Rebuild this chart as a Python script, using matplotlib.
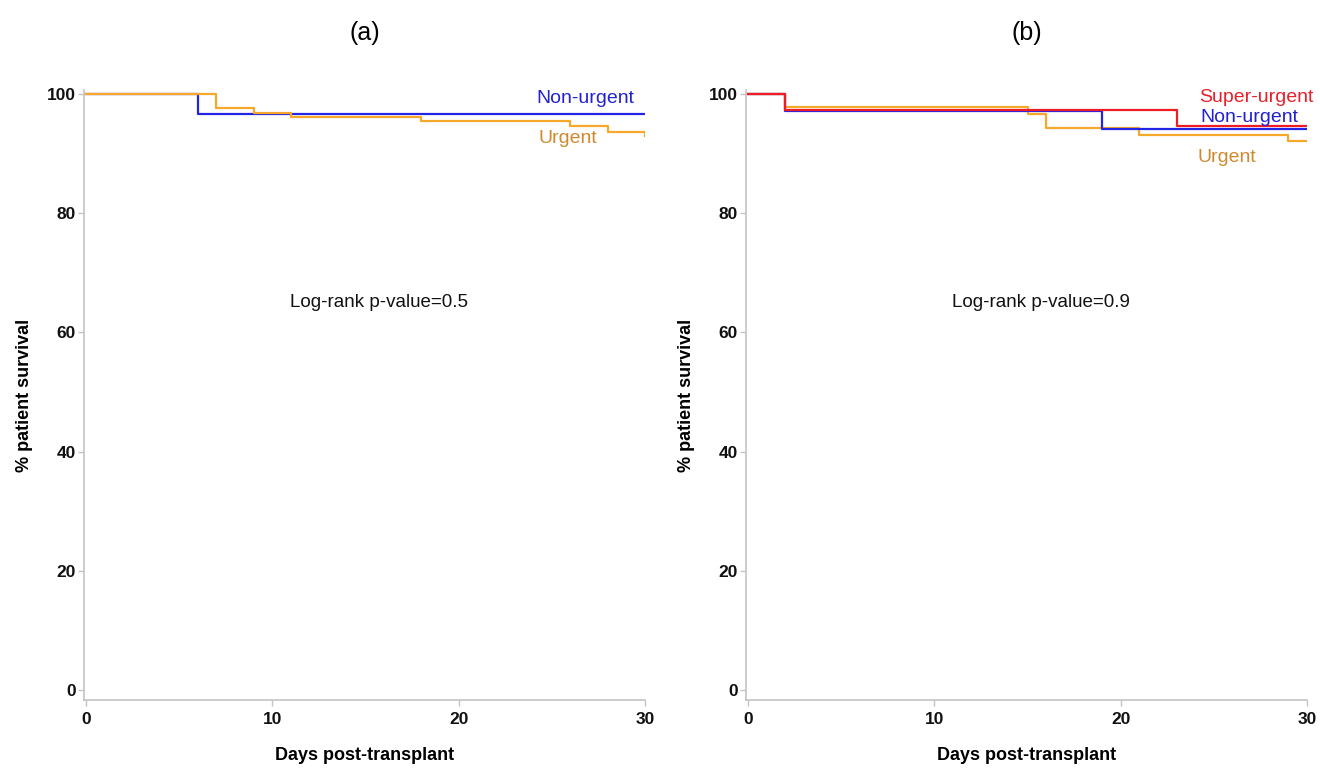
import matplotlib
matplotlib.use("Agg")
import matplotlib.pyplot as plt

plt.rcParams['font.family'] = ['Liberation Sans', 'DejaVu Sans']

# ---- Data ----
# Panel (a)
a_nonurgent_days = [0, 6, 30]
a_nonurgent_surv = [100, 96.6, 96.6]
a_urgent_days = [0, 7, 9, 11, 18, 26, 28, 30]
a_urgent_surv = [100, 97.6, 96.8, 96.2, 95.5, 94.7, 93.7, 93.0]

# Panel (b)
b_super_days = [0, 2, 23, 30]
b_super_surv = [100, 97.4, 94.6, 94.6]
b_nonurgent_days = [0, 2, 19, 30]
b_nonurgent_surv = [100, 97.1, 94.1, 94.1]
b_urgent_days = [0, 2, 15, 16, 21, 29, 30]
b_urgent_surv = [100, 97.8, 96.6, 94.4, 93.2, 92.2, 92.2]

x_ticks = [0, 10, 20, 30]
y_ticks = [0, 20, 40, 60, 80, 100]
titles = ["(a)", "(b)"]
pvalue_texts = ["Log-rank p-value=0.5", "Log-rank p-value=0.9"]

C_BLUE = "#2424e6"
C_ORANGE = "#f5a82a"
C_RED = "#ee1c25"
T_BLUE = "#2222d0"
T_ORANGE = "#d08a2e"
T_RED = "#e8202c"
SPINE = "#c4c4c4"

fig = plt.figure(figsize=(13.2, 7.74), dpi=100)
ax_a = fig.add_axes([84/1320, 1-700/774, (645-84)/1320, (700-90)/774])
ax_b = fig.add_axes([746/1320, 1-700/774, (1307-746)/1320, (700-90)/774])


def style(ax, title, ptxt):
    ax.set_xlim(-0.11, 30)
    ax.set_ylim(-1.68, 100.7)
    ax.set_xticks(x_ticks)
    ax.set_yticks(y_ticks)
    for s in ["top", "right"]:
        ax.spines[s].set_visible(False)
    for s in ["left", "bottom"]:
        ax.spines[s].set_color(SPINE)
        ax.spines[s].set_linewidth(1.2)
    ax.tick_params(axis='both', colors=SPINE, length=4, width=1, labelcolor='#111111',
                   labelsize=12.5)
    for lab in ax.get_xticklabels() + ax.get_yticklabels():
        lab.set_fontweight('bold')
    ax.tick_params(axis='x', pad=5)
    ax.tick_params(axis='y', pad=2)
    ax.set_xlabel("Days post-transplant", fontsize=13, fontweight='bold', labelpad=14)
    ax.set_ylabel("% patient survival", fontsize=13, fontweight='bold', labelpad=10)
    ax.set_title(title, fontsize=18, pad=36)
    ax.text(15.7, 65.0, ptxt, fontsize=13.5, ha='center', va='center', color='#111111')


style(ax_a, titles[0], pvalue_texts[0])
style(ax_b, titles[1], pvalue_texts[1])

# Panel (a) curves
ax_a.step(a_nonurgent_days, a_nonurgent_surv, where='post', color=C_BLUE, lw=1.6)
ax_a.step(a_urgent_days, a_urgent_surv, where='post', color=C_ORANGE, lw=1.6)
ax_a.text(26.8, 99.2, "Non-urgent", color=T_BLUE, fontsize=14, ha='center', va='center')
ax_a.text(25.85, 92.6, "Urgent", color=T_ORANGE, fontsize=14, ha='center', va='center')

# Panel (b) curves
ax_b.step(b_urgent_days, b_urgent_surv, where='post', color=C_ORANGE, lw=1.6)
ax_b.step(b_nonurgent_days, b_nonurgent_surv, where='post', color=C_BLUE, lw=1.6)
ax_b.step(b_super_days, b_super_surv, where='post', color=C_RED, lw=1.6)
ax_b.text(27.3, 99.5, "Super-urgent", color=T_RED, fontsize=14, ha='center', va='center')
ax_b.text(26.9, 96.1, "Non-urgent", color=T_BLUE, fontsize=14, ha='center', va='center')
ax_b.text(25.7, 89.4, "Urgent", color=T_ORANGE, fontsize=14, ha='center', va='center')

fig.savefig("out.png", dpi=100)
